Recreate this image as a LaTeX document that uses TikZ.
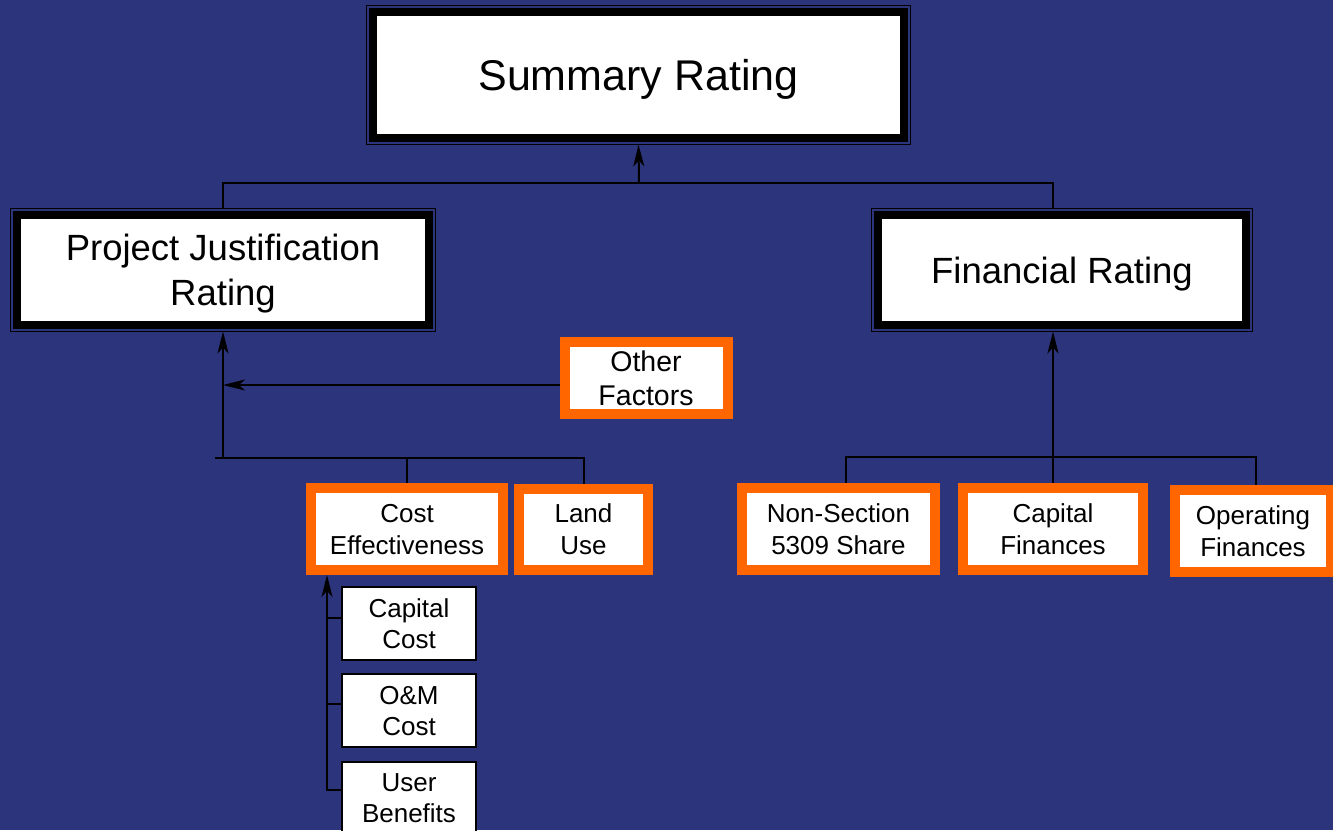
\documentclass[tikz,border=0pt]{standalone}
\usepackage{fontspec}
\setmainfont{Liberation Sans}
\usetikzlibrary{arrows.meta}
\definecolor{bgblue}{RGB}{44,52,124}
\definecolor{frameorange}{RGB}{255,102,0}

\begin{document}
\begin{tikzpicture}[x=1pt,y=-1pt,
  ratingbox/.style={draw=black, line width=8pt, fill=white, inner sep=0pt,
    outer sep=6.5pt, align=center, text=black, text depth=0pt},
  factorbox/.style={draw=frameorange, line width=10pt, fill=white, inner sep=0pt,
    align=center, text=black, text depth=0pt, font=\fontsize{26}{32}\selectfont},
  subbox/.style={draw=black, line width=2pt, fill=white, inner sep=0pt,
    align=center, text=black, text depth=0pt, minimum width=134pt, minimum height=73pt,
    font=\fontsize{26}{31}\selectfont},
  conn/.style={line width=2pt, black},
  uparrow/.style={conn, -{Stealth[length=22pt,width=11pt,inset=6pt]}},
  outerframe/.style={line width=1.5pt, black}]

% background
\fill[bgblue] (0,0) rectangle (1333,830);
\useasboundingbox (0,0) rectangle (1333,830);

% top level and second level ratings
\node[ratingbox, minimum width=531pt, minimum height=126pt,
  font=\fontsize{43}{50}\selectfont] (sum) at (638.5,75) {Summary Rating};
\node[ratingbox, minimum width=412pt, minimum height=110pt,
  font=\fontsize{36.5}{45}\selectfont] (pjr) at (223,270) {Project Justification\\Rating};
\node[ratingbox, minimum width=368pt, minimum height=110pt,
  font=\fontsize{36.5}{45}\selectfont] (fin) at (1062,270) {Financial Rating};
\foreach \n in {sum,pjr,fin}
  \draw[outerframe] (\n.north west) rectangle (\n.south east);

% factors
\node[factorbox, minimum width=163pt, minimum height=72pt,
  font=\fontsize{28.5}{34}\selectfont] (of) at (646,378) {Other\\Factors};
\node[factorbox, minimum width=192pt, minimum height=82pt] (ce) at (407,529) {Cost\\Effectiveness};
\node[factorbox, minimum width=129pt, minimum height=81pt] (lu) at (583.5,529.5) {Land\\Use};
\node[factorbox, minimum width=193pt, minimum height=82pt] (nons) at (838.5,529) {Non-Section\\5309 Share};
\node[factorbox, minimum width=180pt, minimum height=82pt] (capf) at (1053,529) {Capital\\Finances};
\node[factorbox, minimum width=156pt, minimum height=82pt] (opf) at (1253,531) {Operating\\Finances};

% cost effectiveness components
\node[subbox] (cc) at (409,623.5) {Capital\\Cost};
\node[subbox] (om) at (409,710.5) {O\&M\\Cost};
\node[subbox] (ub) at (409,798.5) {User\\Benefits};

% connectors to the summary rating
\coordinate (topbus) at (639,183);
\draw[conn] (pjr.north) |- (topbus) -| (fin.north -| capf.north);
\draw[uparrow] (topbus) -- (sum.south);

% connectors to the project justification rating
\coordinate (lbus) at (215,458);
\draw[conn] (lbus) -| (lu.north);
\draw[conn] (ce.north) -- (ce.north |- lbus);
\draw[uparrow] (pjr.south |- lbus) -- (pjr.south);
\draw[uparrow] ([yshift=-7pt]of.west) -- ([yshift=-7pt]of.west -| pjr.south);

% connectors to the financial rating
\coordinate (rbus) at (1053,457);
\draw[conn] ([xshift=7.5pt]nons.north) |- (rbus) -| ([xshift=3pt]opf.north);
\draw[uparrow] (capf.north) -- (capf.north |- fin.south);

% connectors to cost effectiveness
\coordinate (spine) at (327,0);
\draw[uparrow] ([yshift=8.5pt]ub.west) -| (spine |- ce.south);
\draw[conn] ([yshift=5.5pt]cc.west) -- ([yshift=5.5pt]cc.west -| spine);
\draw[conn] ([yshift=6.5pt]om.west) -- ([yshift=6.5pt]om.west -| spine);
\end{tikzpicture}
\end{document}
